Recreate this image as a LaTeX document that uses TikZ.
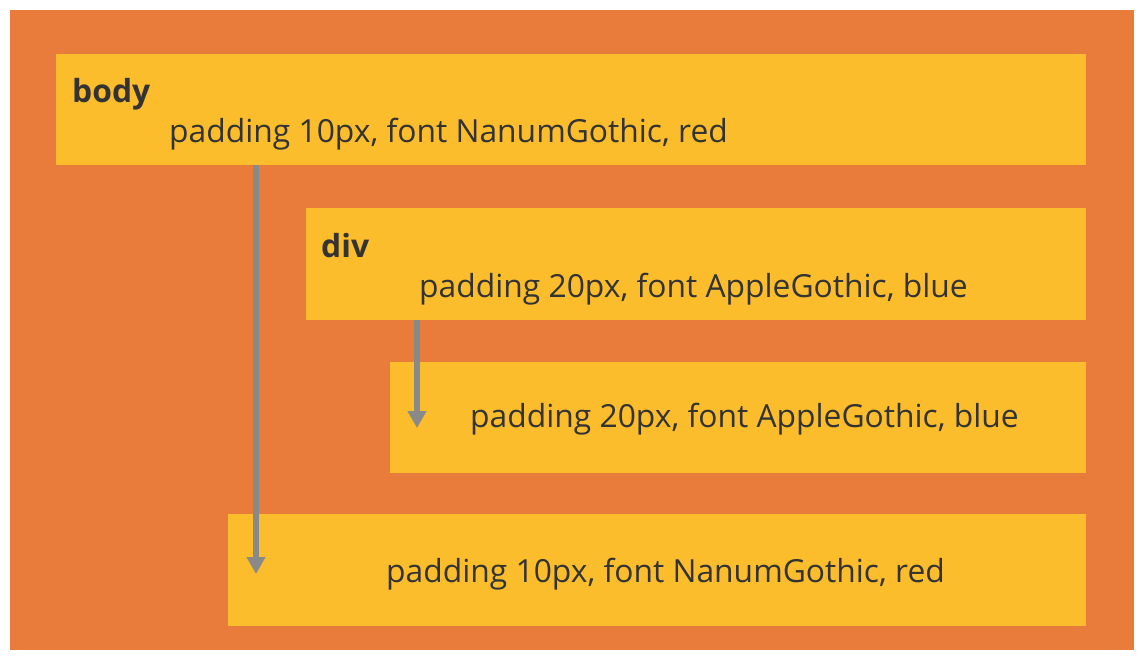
\documentclass[tikz,border=0pt]{standalone}
\usepackage{fontspec}
\setmainfont{Open Sans}
\usetikzlibrary{arrows.meta,positioning,calc}

\definecolor{bgorange}{HTML}{E97C3B}
\definecolor{boxyellow}{HTML}{FBBD2C}
\definecolor{arrowgray}{HTML}{898989}
\definecolor{textgray}{HTML}{333333}

\begin{document}
\begin{tikzpicture}[
    x=1pt, y=-1pt,
    box/.style={fill=boxyellow, draw=none, anchor=north west, inner sep=0pt},
    label/.style={anchor=base west, inner sep=0pt, text=textgray, font=\fontsize{31.8}{36}\selectfont},
    tag/.style={label, font=\fontsize{31.8}{36}\selectfont\bfseries},
    arrow/.style={-{Triangle[width=18pt,length=17pt]}, line width=6pt, draw=arrowgray}
]

\useasboundingbox (0,0) rectangle (1146,662);

% Background
\fill[bgorange] (10,10) rectangle (1134,650);

% body
\node[box, minimum width=1030pt, minimum height=111pt] (body) at (56,54) {};
\node[tag] (bodytag) at (72,102) {body};
\node[label] (bodytext) at (169,142) {padding 10px, font NanumGothic, red};

% div
\node[box, minimum width=780pt, minimum height=112pt] (div) at (306,208) {};
\node[tag] (divtag) at (321,257) {div};
\node[label] (divtext) at (419,297) {padding 20px, font AppleGothic, blue};

% Inherited by div child
\node[box, minimum width=696pt, minimum height=111pt] (divchild) at (390,362) {};
\node[label] (divchildtext) at (470,427) {padding 20px, font AppleGothic, blue};

% Inherited by body child
\node[box, minimum width=858pt, minimum height=112pt] (bodychild) at (228,514) {};
\node[label] (bodychildtext) at (386,582) {padding 10px, font NanumGothic, red};

% Arrows
\coordinate (bodytip) at (256,574);
\coordinate (divtip) at (417,428);
\draw[arrow] (body.south -| bodytip) -- (bodytip);
\draw[arrow] (div.south -| divtip) -- (divtip);

\end{tikzpicture}
\end{document}
